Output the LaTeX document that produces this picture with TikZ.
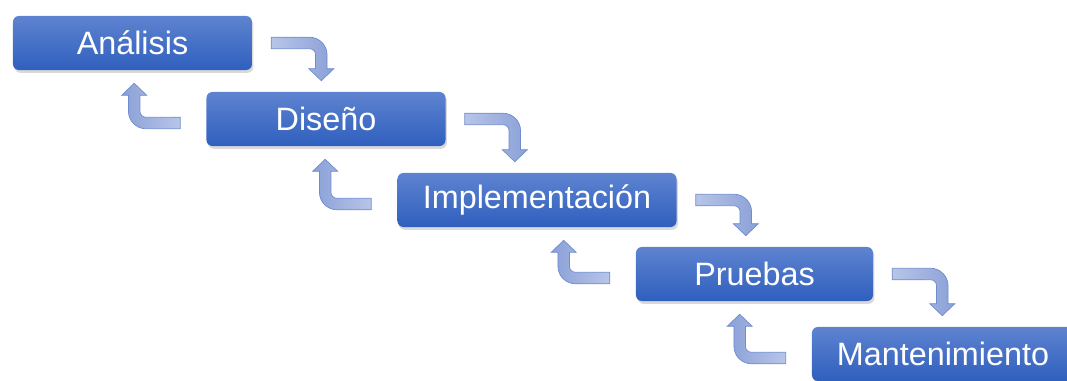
\documentclass[tikz,border=0pt]{standalone}
\usepackage{fontspec}
\setmainfont{Liberation Sans}
\usetikzlibrary{calc, shadows}
\definecolor{cajaarriba}{RGB}{94,131,208}
\definecolor{cajaabajo}{RGB}{47,95,190}
\definecolor{flechaclara}{RGB}{184,197,232}
\definecolor{flechaoscura}{RGB}{138,160,215}
\definecolor{flechaborde}{RGB}{110,140,206}

\begin{document}
\begin{tikzpicture}[x=0.025cm,y=0.025cm,
 fase node/.style={rectangle,rounded corners=0.15cm,top color=cajaarriba,bottom color=cajaabajo,
   text=white,font=\fontsize{23}{27}\selectfont,minimum height=1.35cm,inner sep=0pt,
   drop shadow={opacity=0.3,shadow xshift=1pt,shadow yshift=-2pt}},
 flecha/.style={draw=flechaborde,line width=0.5pt}]
\useasboundingbox (0,0) rectangle (1067,-381);
\node[fase node,minimum width=5.975cm](ana) at (132.5,-43){Análisis};
 \node[fase node,minimum width=5.975cm](dis) at (326,-119){Diseño};
 \node[fase node,minimum width=6.975cm](imp) at (537,-200){Implementación};
 \node[fase node,minimum width=5.925cm](pru) at (754.5,-274){Pruebas};
 \node[fase node,minimum width=6.55cm](man) at (943,-354){Mantenimiento};

 \foreach \p/\q in {ana/dis, dis/imp, imp/pru, pru/man}{
   \coordinate (s) at ($(\p.east)+(19,0)$);
   \coordinate (h) at ($(\q.north -| \p.east)+(69,11)$);
   \shadedraw[flecha,left color=flechaclara,right color=flechaoscura]
     ($(s)+(0,5.75)$) -- ($(s -| h)+(-11.75,5.75)$) arc[start angle=90,end angle=0,radius=0.4375cm]
     -- ($(h)+(5.75,12)$) -- ($(h)+(12.5,12)$) -- (h) -- ($(h)+(-12.5,12)$) -- ($(h)+(-5.75,12)$)
     -- ($(s -| h)+(-5.75,-11.75)$) arc[start angle=0,end angle=90,radius=0.15cm]
     -- ($(s)+(0,-5.75)$) -- cycle;
   \coordinate (e) at ($(\q.west)+(-26,-4)$);
   \coordinate (t) at ($(\p.south -| \q.west)+(-72,-13)$);
   \shadedraw[flecha,left color=flechaoscura,right color=flechaclara]
     ($(e)+(0,-5.75)$) -- ($(e -| t)+(11.75,-5.75)$) arc[start angle=270,end angle=180,radius=0.4375cm]
     -- ($(t)+(-5.75,-12)$) -- ($(t)+(-12.5,-12)$) -- (t) -- ($(t)+(12.5,-12)$) -- ($(t)+(5.75,-12)$)
     -- ($(e -| t)+(5.75,11.75)$) arc[start angle=180,end angle=270,radius=0.15cm]
     -- ($(e)+(0,5.75)$) -- cycle;}
 \end{tikzpicture}
\end{document}
